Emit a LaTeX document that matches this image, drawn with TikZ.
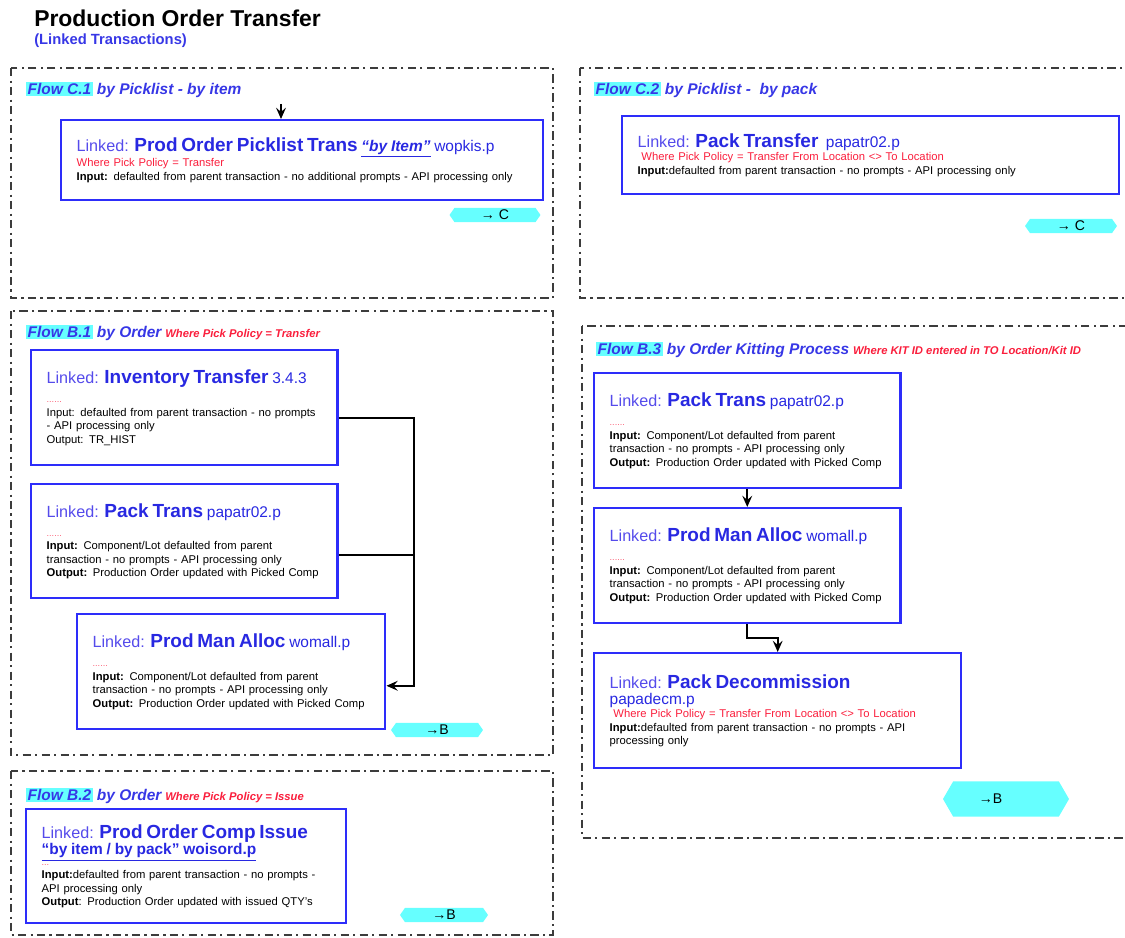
\documentclass[tikz,border=0pt]{standalone}
\usepackage{fontspec}
\setmainfont{Liberation Sans}
\usetikzlibrary{arrows.meta, positioning, shapes.symbols}

\definecolor{boxblue}{RGB}{45,45,250}
\definecolor{ttlblue}{RGB}{40,40,225}
\definecolor{lnkblue}{RGB}{85,75,235}
\definecolor{flowblue}{RGB}{55,55,230}
\definecolor{polred}{RGB}{250,30,60}
\definecolor{tagcyan}{RGB}{102,255,255}
\definecolor{framegray}{RGB}{60,60,60}
\setlength{\fboxsep}{1pt}

\newcommand{\Lk}{{\fontsize{11.5}{13}\selectfont\color{lnkblue}Linked:}}
\newcommand{\Tt}[1]{{\fontsize{13.5}{15}\selectfont\bfseries\color{ttlblue}#1}}
\newcommand{\Fn}[1]{{\fontsize{11}{13}\selectfont\color{ttlblue}#1}}
\newcommand{\Pol}[1]{{\color{polred}#1}}
\newcommand{\Dots}{{\fontsize{6.5}{7}\selectfont\color{polred!70}......}}
\newcommand{\Flow}[3]{{\fontsize{11}{13}\selectfont\bfseries\itshape\color{flowblue}\colorbox{tagcyan}{Flow #1} #2} {\fontsize{8}{10}\selectfont\bfseries\itshape\color{polred}#3}}

\begin{document}
\begin{tikzpicture}[x=0.025cm, y=-0.025cm,
  frame/.style={draw=framegray, line width=2pt,
    dash pattern=on 6pt off 3pt on 1.5pt off 3pt},
  flowbox/.style={draw=boxblue, line width=1.7pt, anchor=north west,
    align=left, inner xsep=11pt, inner ysep=2pt,
    font=\fontsize{8}{9.6}\selectfont},
  flowlbl/.style={anchor=west, inner sep=0pt},
  tag/.style={signal, signal to=east and west, signal pointer angle=110,
    fill=tagcyan, inner sep=0pt, minimum height=10pt,
    font=\fontsize{10}{11}\selectfont},
  link/.style={-{Stealth[length=8pt, width=7pt, inset=3pt]}, line width=1.4pt},
  joint/.style={line width=1.4pt},
]
  \useasboundingbox (0,0) rectangle (1125,938);

  % Heading
  \node (head) [anchor=west, inner sep=0pt, font=\fontsize{16.3}{18}\selectfont\bfseries]
    at (34,18) {Production Order Transfer};
  \node (subhead) [anchor=west, inner sep=0pt, font=\fontsize{10.5}{12}\selectfont\bfseries,
    text=flowblue] at (34,41) {(Linked Transactions)};

  % Dash-dot frames
  \draw[frame] (11,68) rectangle (553,298);
  \draw[frame] (580,68) rectangle (1140,298);
  \draw[frame] (11,311) rectangle (553,755);
  \draw[frame] (582,326) rectangle (1140,838);
  \draw[frame] (11,771) rectangle (553,935);

  % Flow C.1
  \node (lblC1) [flowlbl] at (26,90) {\Flow{C.1}{by Picklist - by item}{}};
  \node (picklist) [flowbox, text width=320.8pt, minimum height=56.9pt] at (60,119)
    {\Lk{} \Tt{Prod Order Picklist Trans} \Fn{\underline{\textbf{\textit{“by Item”}}} wopkis.p}\\
     \Pol{Where Pick Policy = Transfer}\\
     \textbf{Input:} defaulted from parent transaction - no additional prompts - API processing only};
  \coordinate (c1in) at (281,104);
  \draw[link] (c1in) -- (c1in |- picklist.north);
  \node (tagC1) [tag, minimum width=64.7pt] at (495,215) {→ C};

  % Flow C.2
  \node (lblC2) [flowlbl] at (594,90) {\Flow{C.2}{by Picklist -\ \ by pack}{}};
  \node (packxfer) [flowbox, text width=331.5pt, minimum height=55.5pt] at (621,115)
    {\Lk{} \Tt{Pack Transfer}\ \ \Fn{papatr02.p}\\
     \ \Pol{Where Pick Policy = Transfer From Location <> To Location}\\
     \textbf{Input:}defaulted from parent transaction - no prompts - API processing only};
  \node (tagC2) [tag, minimum width=65.4pt] at (1071,226) {→ C};

  % Flow B.1
  \node (lblB1) [flowlbl] at (26,333) {\Flow{B.1}{by Order}{Where Pick Policy = Transfer}};
  \node (inv) [flowbox, text width=195.7pt, minimum height=81.8pt] at (30,349)
    {\Lk{} \Tt{Inventory Transfer} \Fn{3.4.3}\\[4pt]
     \Dots\\
     Input: defaulted from parent transaction - no prompts\\
     - API processing only\\
     Output: TR\_HIST};
  \node (pack) [flowbox, text width=195.7pt, minimum height=81.1pt] at (30,483)
    {\Lk{} \Tt{Pack Trans} \Fn{papatr02.p}\\[4pt]
     \Dots\\
     \textbf{Input:} Component/Lot defaulted from parent\\
     transaction - no prompts - API processing only\\
     \textbf{Output:} Production Order updated with Picked Comp};
  \node (alloc) [flowbox, text width=197.1pt, minimum height=81.8pt] at (76,613)
    {\Lk{} \Tt{Prod Man Alloc} \Fn{womall.p}\\[4pt]
     \Dots\\
     \textbf{Input:} Component/Lot defaulted from parent\\
     transaction - no prompts - API processing only\\
     \textbf{Output:} Production Order updated with Picked Comp};
  \coordinate (tx) at (414,0);
  \coordinate (iv) at ([yshift=-7pt]inv.east);
  \coordinate (pk) at ([yshift=-10pt]pack.east);
  \draw[link] (iv) -- (iv -| tx) |- ([yshift=-10pt]alloc.east);
  \draw[joint] (pk) -- (pk -| tx);
  \node (tagB1) [tag, minimum width=65.4pt] at (437,730) {→B};

  % Flow B.2
  \node (lblB2) [flowlbl] at (26,796) {\Flow{B.2}{by Order}{Where Pick Policy = Issue}};
  \node (issue) [flowbox, text width=205.6pt, minimum height=81.1pt] at (25,808)
    {\Lk{} \Tt{Prod Order Comp Issue}\\
     {\fontsize{11}{13}\selectfont\bfseries\color{ttlblue}\underline{“by item / by pack” woisord.p}}\\[-2pt]
     {\fontsize{6.5}{7}\selectfont\color{polred!70}...}\\
     \textbf{Input:}defaulted from parent transaction - no prompts -\\
     API processing only\\
     \textbf{Output}: Production Order updated with issued QTY's};
  \node (tagB2) [tag, minimum width=62.6pt] at (444,915) {→B};

  % Flow B.3
  \node (lblB3) [flowlbl] at (596,350)
    {\Flow{B.3}{by Order Kitting Process}{Where KIT ID entered in TO Location/Kit ID}};
  \node (kpack) [flowbox, text width=195.7pt, minimum height=81.8pt] at (593,372)
    {\Lk{} \Tt{Pack Trans} \Fn{papatr02.p}\\[4pt]
     \Dots\\
     \textbf{Input:} Component/Lot defaulted from parent\\
     transaction - no prompts - API processing only\\
     \textbf{Output:} Production Order updated with Picked Comp};
  \node (kalloc) [flowbox, text width=195.7pt, minimum height=81.8pt] at (593,507)
    {\Lk{} \Tt{Prod Man Alloc} \Fn{womall.p}\\[4pt]
     \Dots\\
     \textbf{Input:} Component/Lot defaulted from parent\\
     transaction - no prompts - API processing only\\
     \textbf{Output:} Production Order updated with Picked Comp};
  \node (decom) [flowbox, text width=239pt, minimum height=81.8pt] at (593,652)
    {\Lk{} \Tt{Pack Decommission}\\[2pt]
     \Fn{papadecm.p}\\
     \ \Pol{Where Pick Policy = Transfer From Location <> To Location}\\
     \textbf{Input:}defaulted from parent transaction - no prompts - API\\
     processing only};
  \draw[link] (kpack) -- (kalloc);
  \draw[link] (kalloc.south) -- ++(0,14) -| (decom.north);
  \node (tagB3) [tag, signal pointer angle=120, minimum width=89.6pt, minimum height=25pt]
    at (1006,799) {→B\hspace*{22pt}};
\end{tikzpicture}
\end{document}
